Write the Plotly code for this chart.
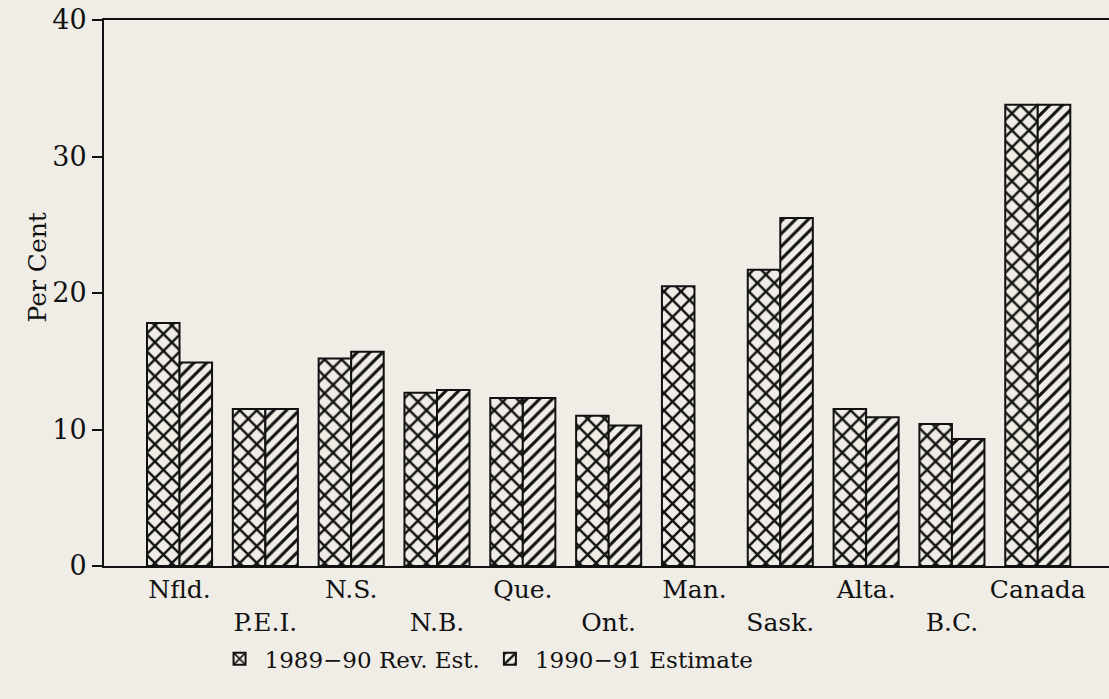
import plotly.graph_objects as go

provinces = ["Nfld.", "P.E.I.", "N.S.", "N.B.", "Que.", "Ont.", "Man.", "Sask.", "Alta.", "B.C.", "Canada"]
rev_est_1989_90 = [17.8, 11.5, 15.2, 12.7, 12.3, 11.0, 20.5, 21.7, 11.5, 10.4, 33.8]
estimate_1990_91 = [14.9, 11.5, 15.7, 12.9, 12.3, 10.3, None, 25.5, 10.9, 9.3, 33.8]
y_ticks = [0, 10, 20, 30, 40]
series_names = ["1989\u221290 Rev. Est.", "1990\u221291 Estimate"]

BG = "#f0ece6"
INK = "#111111"
FONT = "DejaVu Serif"

xpos = list(range(len(provinces)))
ticktext = [p if i % 2 == 0 else "<br>" + p for i, p in enumerate(provinces)]

fig = go.Figure()
fig.add_trace(go.Bar(
    x=xpos, y=rev_est_1989_90, name=series_names[0],
    marker=dict(color=BG, line=dict(color=INK, width=2),
                pattern=dict(shape="x", size=12, solidity=0.36, fgcolor=INK,
                             fgopacity=1, bgcolor=BG)),
))
fig.add_trace(go.Bar(
    x=xpos, y=estimate_1990_91, name=series_names[1],
    marker=dict(color=BG, line=dict(color=INK, width=2),
                pattern=dict(shape="/", size=9, solidity=0.34, fgcolor=INK,
                             fgopacity=1, bgcolor=BG)),
))

fig.update_layout(
    width=1109, height=699,
    margin=dict(l=104, r=0, t=20, b=133),
    paper_bgcolor=BG, plot_bgcolor=BG,
    barmode="group", bargap=0.242, bargroupgap=0,
    font=dict(family=FONT, color=INK, size=25),
    showlegend=True,
    legend=dict(orientation="h", x=0.11, xanchor="left", y=-0.17, yanchor="middle",
                bgcolor="rgba(0,0,0,0)", font=dict(size=23, family=FONT),
                itemwidth=40, tracegroupgap=0),
    xaxis=dict(
        range=[-0.88, 10.83], tickmode="array", tickvals=xpos, ticktext=ticktext,
        showline=True, linecolor=INK, linewidth=2, mirror=True,
        ticks="", showgrid=False, zeroline=False,
        tickfont=dict(size=25, family=FONT),
    ),
    yaxis=dict(
        range=[0, 40], tickvals=y_ticks,
        showline=True, linecolor=INK, linewidth=2,
        ticks="outside", ticklen=10, tickwidth=1.5, tickcolor=INK,
        showgrid=False, zeroline=False,
        tickfont=dict(size=27, family=FONT),
    ),
    annotations=[dict(
        text="Per Cent", xref="paper", yref="paper", x=-0.066, y=0.546,
        textangle=-90, showarrow=False, xanchor="center", yanchor="middle",
        font=dict(size=25, family=FONT, color=INK),
    )],
)

fig.write_html("out.html", config={"displayModeBar": False},
               post_script="document.body.style.margin='0';")
